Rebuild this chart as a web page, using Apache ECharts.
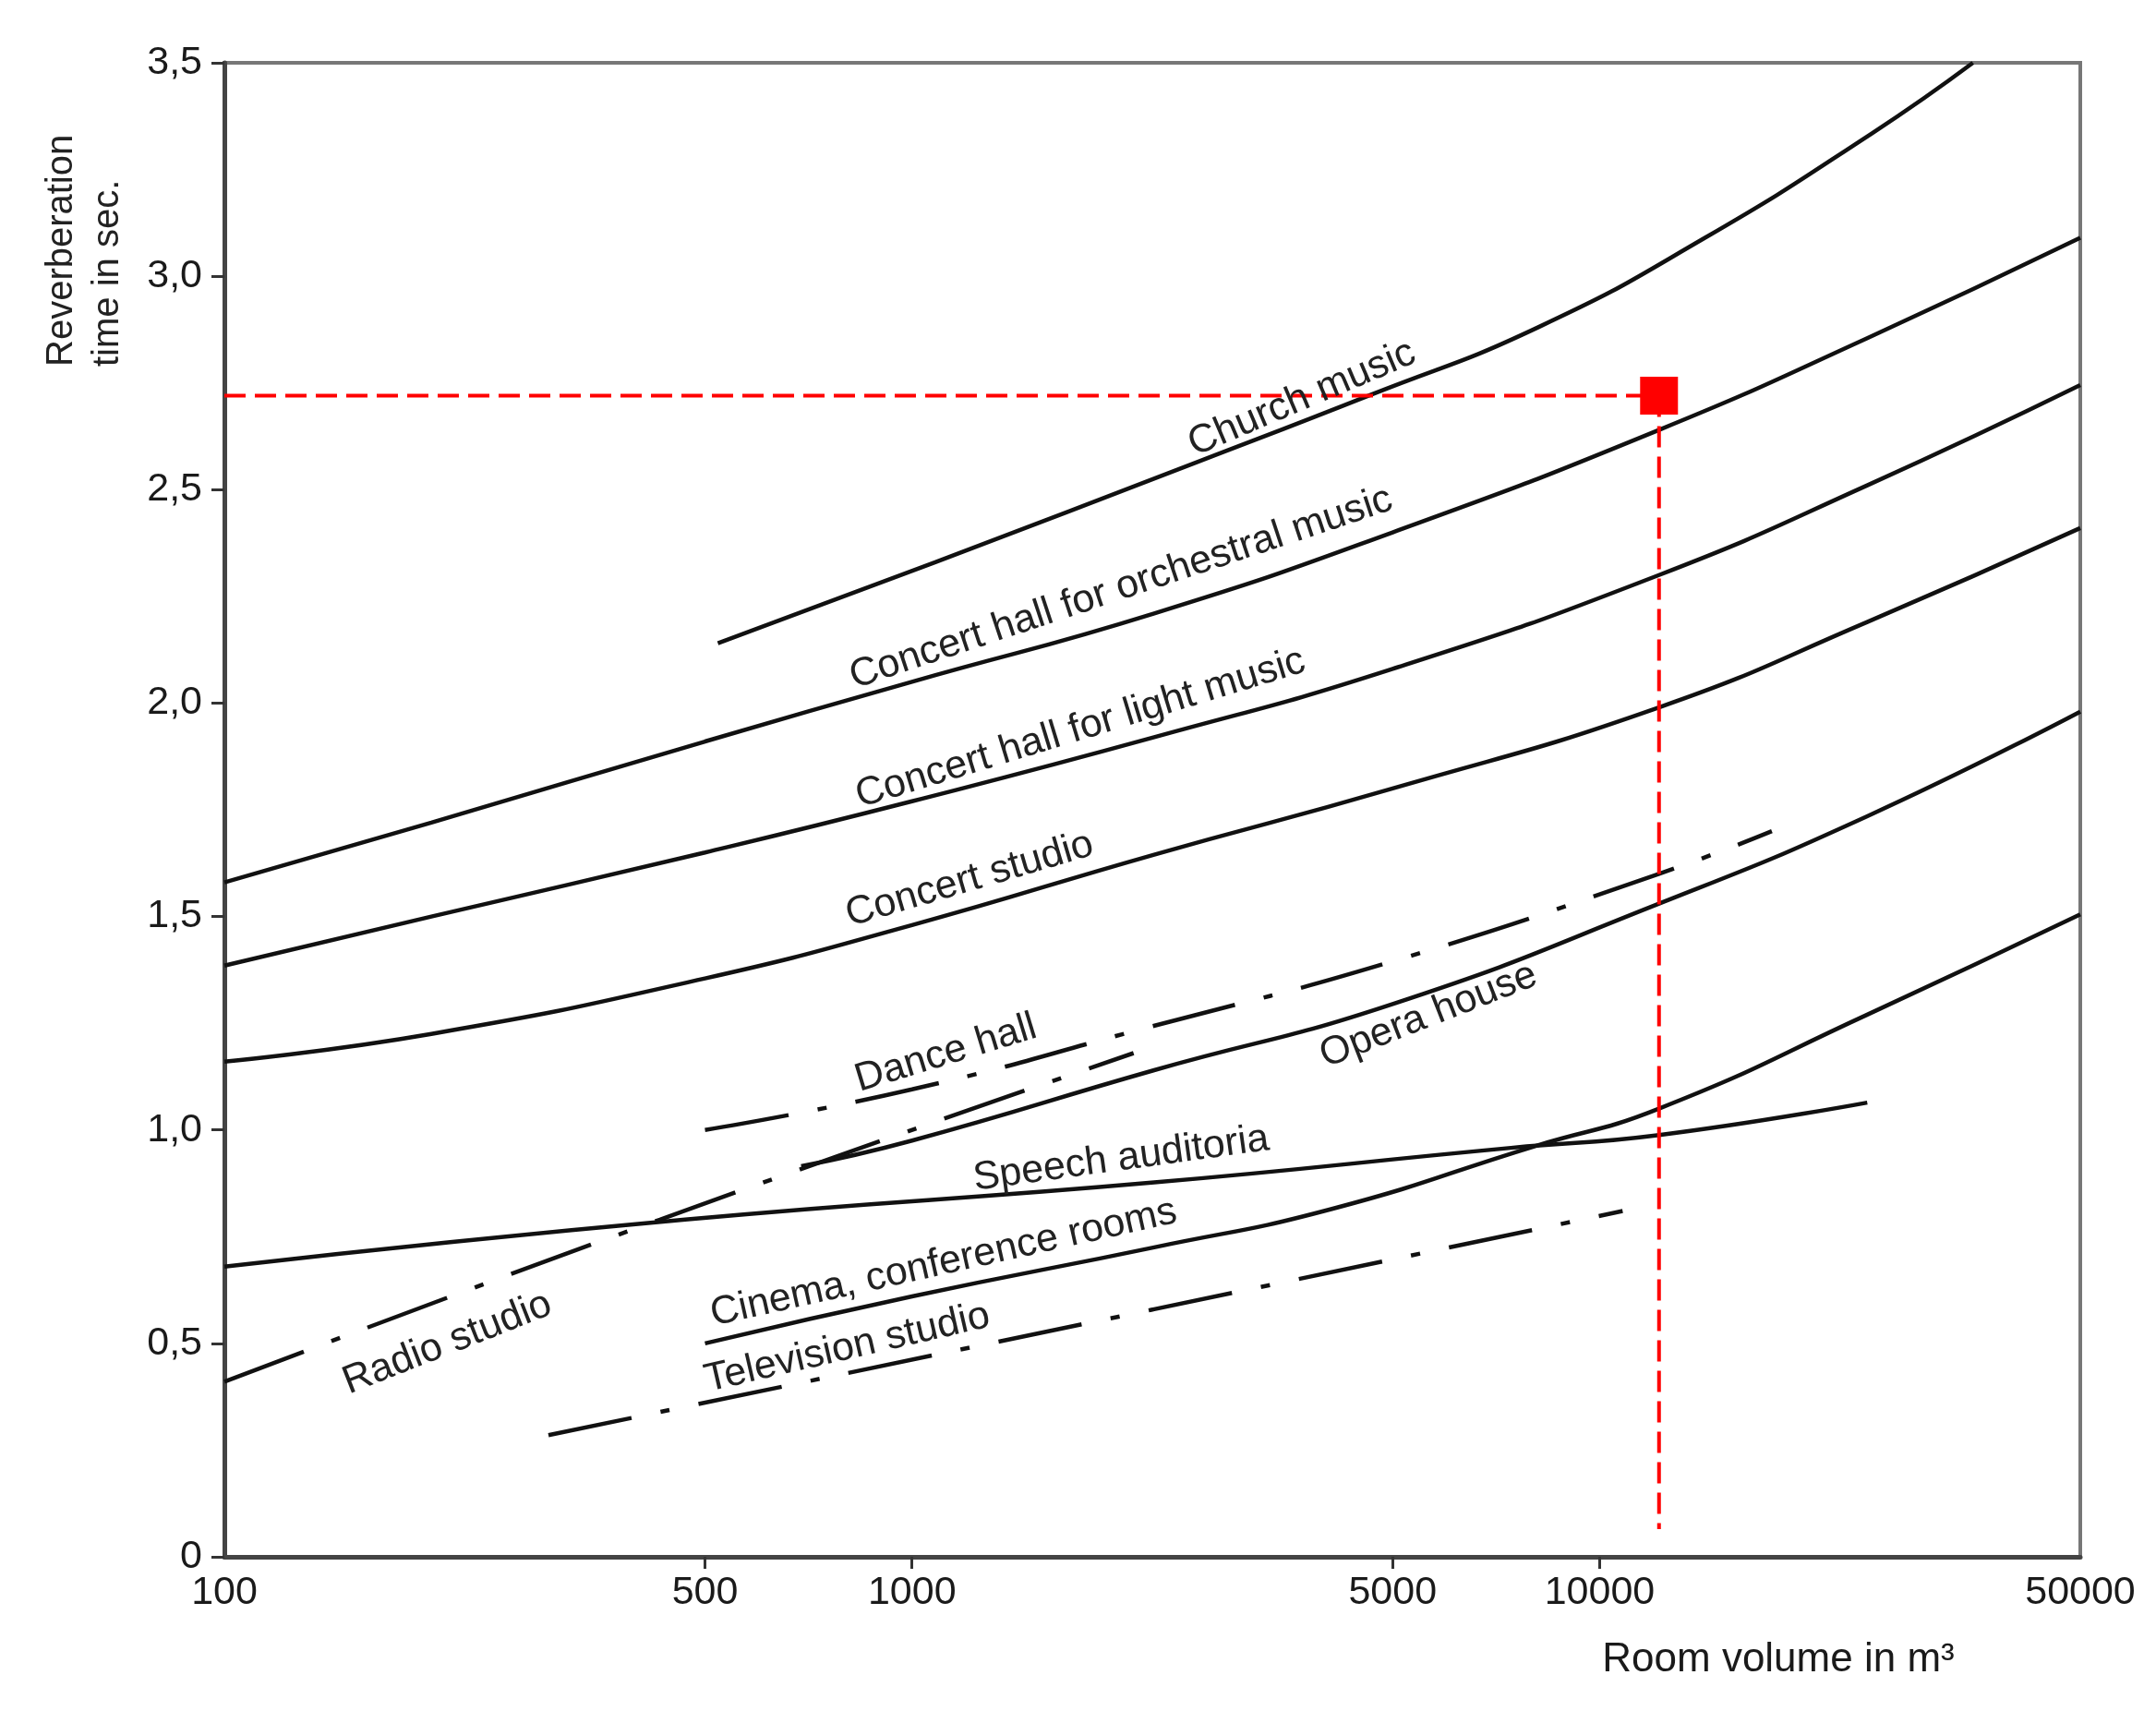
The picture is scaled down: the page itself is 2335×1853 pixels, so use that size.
<!DOCTYPE html>
<html>
<head>
<meta charset="utf-8">
<script src="https://cdn.jsdelivr.net/npm/echarts@6/dist/echarts.min.js"></script>
<style>
html,body{margin:0;padding:0;background:#fff}
#chart{width:2335px;height:1853px}
</style>
</head>
<body>
<div id="chart"></div>
<script>
// ---- data (room volume m3, reverberation time s) ----
const xTickLabels = [100, 500, 1000, 5000, 10000, 50000];
const xTickMarks = [500, 1000, 5000, 10000];

const churchMusic = [[522,2.14],[1081,2.33],[2652,2.57],[4645,2.722],[8130,2.88],[14230,3.09],[24900,3.335],[34900,3.5]];
const concertOrchestral = [[100,1.58],[200,1.72],[500,1.91],[1000,2.05],[2250,2.21],[5000,2.40],[12200,2.64],[24500,2.855],[50000,3.09]];
const concertLight = [[100,1.385],[200,1.50],[500,1.65],[1000,1.77],[2250,1.92],[5000,2.08],[12200,2.30],[24500,2.51],[50000,2.745]];
const concertStudio = [[100,1.16],[200,1.225],[500,1.355],[1000,1.48],[2250,1.645],[5000,1.80],[12200,1.99],[24500,2.19],[50000,2.41]];
const operaHouse = [[690,0.915],[1000,0.975],[2250,1.14],[5000,1.295],[12200,1.53],[24500,1.735],[50000,1.98]];
const danceHall = [[500,1.00],[1000,1.095],[2200,1.24],[5000,1.395],[12200,1.60],[17800,1.70]];
const radioStudio = [[100,0.41],[430,0.79],[2100,1.18]];
const speechAuditoria = [[100,0.68],[468,0.79],[2250,0.877],[7430,0.958],[12200,0.988],[24500,1.064]];
const cinemaConference = [[500,0.50],[1000,0.61],[2250,0.725],[4080,0.815],[8050,0.962],[12200,1.05],[24500,1.27],[50000,1.505]];
const televisionStudio = [[296,0.285],[2250,0.58],[10800,0.81]];

const designPoint = [12200, 2.72];
const designFloor = 0.065;

// label text, anchor (x value, y value), angle in degrees
const curveLabels = [
  ['Church music', 3690, 2.713, 23],
  ['Concert hall for orchestral music', 2014, 2.269, 18.4],
  ['Concert hall for light music', 1758, 1.940, 17],
  ['Concert studio', 1213, 1.586, 16.4],
  ['Dance hall', 1120, 1.179, 17],
  ['Opera house', 5640, 1.268, 21.4],
  ['Speech auditoria', 2014, 0.932, 7.8],
  ['Radio studio', 211, 0.50, 21.5],
  ['Cinema, conference rooms', 1112, 0.688, 12.6],
  ['Television studio', 805, 0.489, 13]
];

// ---- chart ----
const FONT = "'Liberation Sans', Arial, sans-serif";
const solid = {color:'#111', width:4.5, type:'solid'};
const dashDot = {color:'#111', width:4.5, type:[92,32,10,32]};

function curve(name, data, style){
  return {name, type:'line', data, showSymbol:false, symbol:'none', smooth:true,
          lineStyle:style, emphasis:{disabled:true}, silent:true, z:3};
}

const chart = echarts.init(document.getElementById('chart'), null, {renderer:'canvas'});
chart.setOption({
  animation:false,
  backgroundColor:'#fff',
  grid:{left:243, right:82, top:68, bottom:167, show:true, borderColor:'#777', borderWidth:4, backgroundColor:'transparent'},
  xAxis:{
    type:'log', logBase:10, min:100, max:50000,
    axisLine:{show:true, lineStyle:{color:'#444', width:5}},
    axisTick:{show:true, length:13, lineStyle:{color:'#333', width:3}, customValues:xTickMarks},
    axisLabel:{show:true, customValues:xTickLabels, color:'#1a1a1a', fontSize:43, fontFamily:FONT, margin:18,
               formatter:v=>String(Math.round(v))},
    splitLine:{show:false}, minorTick:{show:false}
  },
  yAxis:{
    type:'value', min:0, max:3.5, interval:0.5,
    axisLine:{show:true, lineStyle:{color:'#444', width:5}},
    axisTick:{show:true, length:14, lineStyle:{color:'#333', width:3}},
    axisLabel:{color:'#1a1a1a', fontSize:43, fontFamily:FONT, margin:24,
               formatter:v=> v===0 ? '0' : v.toFixed(1).replace('.', ',')},
    splitLine:{show:false}
  },
  series:[
    curve('Church music', churchMusic, solid),
    curve('Concert hall for orchestral music', concertOrchestral, solid),
    curve('Concert hall for light music', concertLight, solid),
    curve('Concert studio', concertStudio, solid),
    curve('Opera house', operaHouse, solid),
    curve('Dance hall', danceHall, dashDot),
    curve('Radio studio', radioStudio, dashDot),
    curve('Speech auditoria', speechAuditoria, solid),
    curve('Cinema, conference rooms', cinemaConference, solid),
    curve('Television studio', televisionStudio, dashDot),
    {name:'guide-h', type:'line', data:[[100, designPoint[1]], designPoint], showSymbol:false, symbol:'none',
     lineStyle:{color:'#ff0000', width:4, type:[23,10]}, silent:true, z:4},
    {name:'guide-v', type:'line', data:[designPoint, [designPoint[0], designFloor]], showSymbol:false, symbol:'none',
     lineStyle:{color:'#ff0000', width:4, type:[23,10]}, silent:true, z:4},
    {name:'design', type:'scatter', data:[designPoint], symbol:'rect', symbolSize:41,
     itemStyle:{color:'#ff0000', opacity:1}, silent:true, z:5}
  ]
});

const graphics = curveLabels.map(([text, x, y, ang]) => {
  const p = chart.convertToPixel({xAxisIndex:0, yAxisIndex:0}, [x, y]);
  return {type:'text', x:p[0], y:p[1], rotation:ang*Math.PI/180, silent:true, z:10,
          style:{text, fill:'#222', font:'43px ' + FONT, align:'center', verticalAlign:'middle'}};
});
graphics.push({type:'text', x:92, y:397, rotation:Math.PI/2, silent:true,
  style:{text:'Reverberation\ntime in sec.', fill:'#222', font:'40px ' + FONT, align:'left', verticalAlign:'middle', lineHeight:50}});
graphics.push({type:'text', x:1926, y:1798, silent:true,
  style:{text:'Room volume in m³', fill:'#1a1a1a', font:'44px ' + FONT, align:'center', verticalAlign:'middle'}});
chart.setOption({graphic:graphics});
</script>
</body>
</html>
